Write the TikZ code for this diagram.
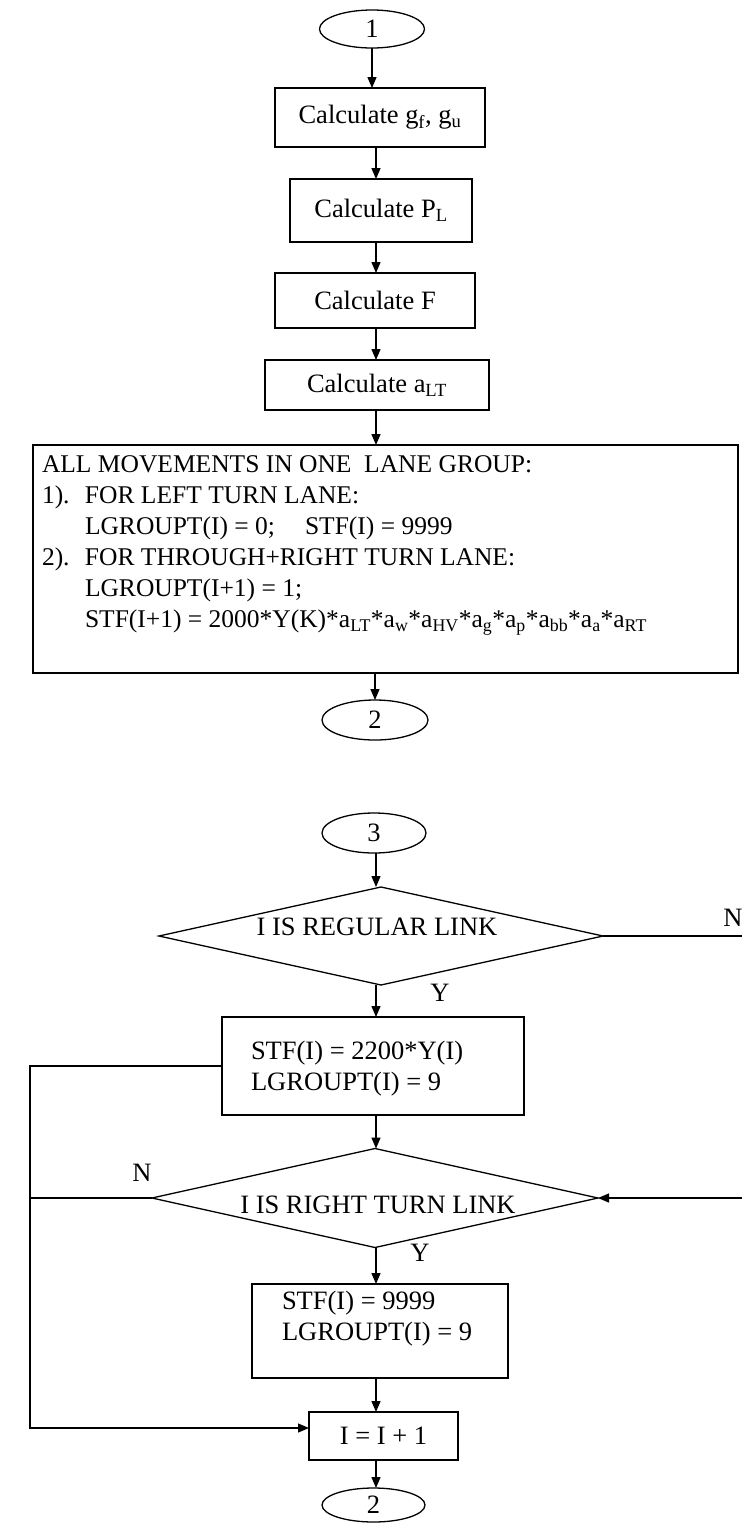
\documentclass[tikz,border=0pt]{standalone}
\usepackage{fontspec}
\setmainfont{Liberation Serif}
\usetikzlibrary{shapes.geometric,arrows.meta}
\begin{document}
\begin{tikzpicture}[x=1pt,y=-1pt,
  every node/.style={font=\fontsize{26.5}{31}\selectfont, outer sep=0pt, inner sep=0pt},
  bigfont/.style={font=\fontsize{25.5}{31}\selectfont},
  box/.style={draw, line width=1.3pt, rectangle},
  oval/.style={draw, line width=1.3pt, ellipse},
  dia/.style={draw, line width=1.3pt, diamond},
  arr/.style={line width=1.3pt, -{Triangle[width=9pt,length=11pt]}},
  ln/.style={line width=1.3pt},
  lbl/.style={align=left},
]
\useasboundingbox (0,0) rectangle (742,1524);
\coordinate (ax) at (376,0);
\coordinate (lx) at (30,0);
\coordinate (rx) at (742,0);

% upper part
\node[oval, minimum width=105pt, minimum height=38pt] (o1) at (372,29) {1};
\node[box, minimum width=210pt, minimum height=59pt] (b1) at (380,117.5) {Calculate g\textsubscript{f}, g\textsubscript{u}};
\node[box, minimum width=182pt, minimum height=63pt] (b2) at (381,210.5) {Calculate P\textsubscript{L}};
\node[box, minimum width=200pt, minimum height=55pt] (b3) at (375,300.5) {Calculate F};
\node[box, minimum width=224pt, minimum height=50pt] (b4) at (377,385) {Calculate a\textsubscript{LT}};
\node[box, minimum width=705pt, minimum height=228pt] (big) at (385.5,559) {};
\node[lbl, bigfont, anchor=north west] (bigtext) at (42,456) {%
ALL MOVEMENTS IN ONE~~LANE GROUP:\\
\makebox[43pt][l]{1).}FOR LEFT TURN LANE:\\
\hspace*{43pt}LGROUPT(I) = 0;\hspace{30pt}STF(I) = 9999\\
\makebox[43pt][l]{2).}FOR THROUGH+RIGHT TURN LANE:\\
\hspace*{43pt}LGROUPT(I+1) = 1;\\
\hspace*{43pt}STF(I+1) = 2000*Y(K)*a\textsubscript{LT}*a\textsubscript{w}*a\textsubscript{HV}*a\textsubscript{g}*a\textsubscript{p}*a\textsubscript{bb}*a\textsubscript{a}*a\textsubscript{RT}};
\node[oval, minimum width=106pt, minimum height=40pt] (o2) at (375,720) {2};

\draw[arr] (o1.south) -- (o1.south |- b1.north);
\draw[arr] (b1.south -| ax) -- (b2.north -| ax);
\draw[arr] (b2.south -| ax) -- (b3.north -| ax);
\draw[arr] (b3.south -| ax) -- (b4.north -| ax);
\draw[arr] (b4.south -| ax) -- (big.north -| ax);
\draw[arr] (big.south -| o2.north) -- (o2.north);

% lower part
\node[oval, minimum width=104pt, minimum height=40pt] (o3) at (374,833) {3};
\node[dia, minimum width=444pt, minimum height=98pt] (d1) at (381,936) {};
\node (d1t) at (377,927) {I IS REGULAR LINK};
\node (n1) at (733,918) {N};
\node (y1) at (440,993) {Y};
\node[box, minimum width=302pt, minimum height=98pt] (b5) at (373,1066) {};
\node[lbl, anchor=west] (b5t) at (251,1069) {STF(I) = 2200*Y(I)\\LGROUPT(I) = 9};
\node[dia, minimum width=446pt, minimum height=99pt] (d2) at (375,1198) {};
\node (d2t) at (378,1205) {I IS RIGHT TURN LINK};
\node (n2) at (142,1173) {N};
\node (y2) at (420,1253) {Y};
\node[box, minimum width=256pt, minimum height=94pt] (b6) at (380,1331) {};
\node[lbl, anchor=west] (b6t) at (282,1319) {STF(I) = 9999\\LGROUPT(I) = 9};
\node[box, minimum width=149pt, minimum height=48pt] (b7) at (383.5,1436) {I = I + 1};
\node[oval, minimum width=103pt, minimum height=34pt] (o4) at (373.5,1505) {2};

\draw[arr] (o3.south -| ax) -- (d1.north -| ax);
\draw[arr] (d1.south -| ax) -- (b5.north -| ax);
\draw[arr] (b5.south -| ax) -- (d2.north -| ax);
\draw[arr] (d2.south -| ax) -- (b6.north -| ax);
\draw[arr] (b6.south -| ax) -- (b7.north -| ax);
\draw[arr] (b7.south -| ax) -- (o4.north -| ax);

\draw[ln] (d1.east) -- (d1.east -| rx);
\draw[arr] (d2.east -| rx) -- (d2.east);
\draw[ln] (d2.west) -- (d2.west -| lx);
\draw[arr] (b5.west) -- (b5.west -| lx) -- ([yshift=8pt]b7.west -| lx) -- ([yshift=8pt]b7.west);
\end{tikzpicture}
\end{document}
